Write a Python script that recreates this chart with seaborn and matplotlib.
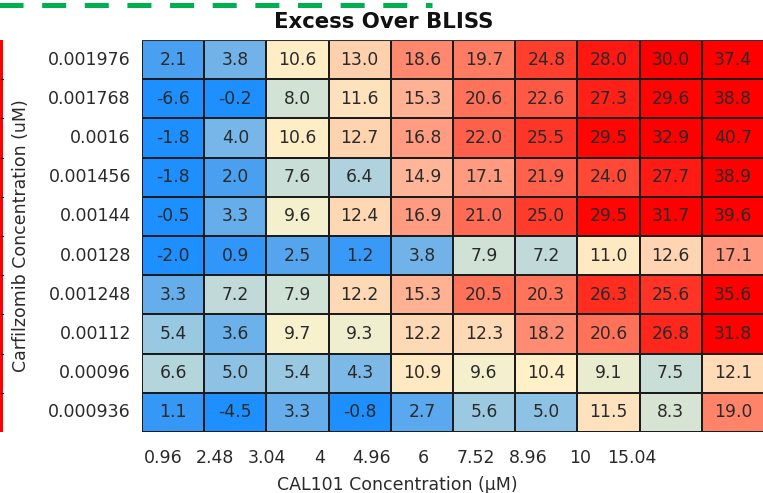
import numpy as np
import pandas as pd
import matplotlib
matplotlib.use("Agg")
import matplotlib.pyplot as plt
from matplotlib.colors import LinearSegmentedColormap
from matplotlib.lines import Line2D
from matplotlib.patches import Rectangle
from matplotlib.transforms import blended_transform_factory
import seaborn as sns

# Drug concentrations
carfilzomib = ["0.001976", "0.001768", "0.0016", "0.001456", "0.00144",
               "0.00128", "0.001248", "0.00112", "0.00096", "0.000936"]
cal101 = ["0.96", "2.48", "3.04", "4", "4.96", "6", "7.52", "8.96", "10", "15.04"]

# Excess over BLISS, one list per Carfilzomib concentration (top to bottom)
row_001976 = [2.1, 3.8, 10.6, 13.0, 18.6, 19.7, 24.8, 28.0, 30.0, 37.4]
row_001768 = [-6.6, -0.2, 8.0, 11.6, 15.3, 20.6, 22.6, 27.3, 29.6, 38.8]
row_0016 = [-1.8, 4.0, 10.6, 12.7, 16.8, 22.0, 25.5, 29.5, 32.9, 40.7]
row_001456 = [-1.8, 2.0, 7.6, 6.4, 14.9, 17.1, 21.9, 24.0, 27.7, 38.9]
row_00144 = [-0.5, 3.3, 9.6, 12.4, 16.9, 21.0, 25.0, 29.5, 31.7, 39.6]
row_00128 = [-2.0, 0.9, 2.5, 1.2, 3.8, 7.9, 7.2, 11.0, 12.6, 17.1]
row_001248 = [3.3, 7.2, 7.9, 12.2, 15.3, 20.5, 20.3, 26.3, 25.6, 35.6]
row_00112 = [5.4, 3.6, 9.7, 9.3, 12.2, 12.3, 18.2, 20.6, 26.8, 31.8]
row_00096 = [6.6, 5.0, 5.4, 4.3, 10.9, 9.6, 10.4, 9.1, 7.5, 12.1]
row_000936 = [1.1, -4.5, 3.3, -0.8, 2.7, 5.6, 5.0, 11.5, 8.3, 19.0]

rows = [row_001976, row_001768, row_0016, row_001456, row_00144,
        row_00128, row_001248, row_00112, row_00096, row_000936]
df = pd.DataFrame(rows, index=carfilzomib, columns=cal101)

# Blue -> pale yellow -> red scale, saturating at 0 and 30
vmin, vmax = 0.0, 30.0
nodes = [(0, "#1e8fff"), (2, "#4aa0f0"), (4, "#76b6e8"), (6, "#a8cfe0"),
         (8, "#d2e2d4"), (10, "#fff4cc"), (12, "#fedcb8"), (14, "#ffc2a2"),
         (17, "#ff9a80"), (20, "#ff785f"), (25, "#ff3c2c"), (30, "#ff0000")]
cmap = LinearSegmentedColormap.from_list(
    "excess", [((v - vmin) / (vmax - vmin), c) for v, c in nodes])

plt.rcParams["font.family"] = ["DejaVu Sans"]
plt.rcParams["lines.scale_dashes"] = False

W, H = 763, 493
txt = "#2a2a2a"
fig = plt.figure(figsize=(W / 100, H / 100), dpi=100)

ax = fig.add_axes([142 / W, 61 / H, 622 / W, 392 / H])
sns.heatmap(df, ax=ax, cmap=cmap, vmin=vmin, vmax=vmax, cbar=False,
            annot=True, fmt=".1f", linewidths=1.1, linecolor="#1c1c1c",
            annot_kws={"fontsize": 12.3, "color": txt},
            xticklabels=False, yticklabels=True)
ax.tick_params(axis="y", length=0, pad=8, labelsize=12.5, labelcolor=txt,
               labelrotation=0)
ax.tick_params(axis="x", length=0)
ax.set_xlabel("")
ax.set_ylabel("")
ax.axhline(0, color="#333333", lw=1.5)

# Concentration labels for the CAL101 axis
lab = fig.add_axes([137 / W, 61 / H, 521 / W, 392 / H])
lab.patch.set_visible(False)
for s in lab.spines.values():
    s.set_visible(False)
lab.set_xlim(0, len(cal101))
lab.set_xticks(np.arange(len(cal101)) + 0.5)
lab.set_xticklabels(cal101)
lab.set_yticks([])
lab.tick_params(axis="x", length=0, pad=12, labelsize=12.5, labelcolor=txt)
lab.set_xlabel("CAL101 Concentration (\u03bcM)", fontsize=12.5, color=txt,
               labelpad=7)

fig.text(21 / W, 1 - 236 / H, "Carfilzomib Concentration (uM)", rotation=90,
         ha="center", va="center", fontsize=12.5, color=txt)
fig.text(0.503, 1 - 22 / H, "Excess Over BLISS", ha="center", va="center",
         fontsize=15.3, fontweight="bold", color="#111111")

# Dashed green rule along the top
fig.add_artist(Line2D([-15.6 / W, 432 / W], [1 - 4.5 / H, 1 - 4.5 / H],
                      transform=fig.transFigure, color="#00b050", lw=3.6,
                      dashes=(17.3, 13.4), solid_capstyle="butt",
                      dash_capstyle="butt"))

# Red strip at the left edge with cell dividers
fig.add_artist(Rectangle((0, 61 / H), 2.6 / W, 392 / H, transform=fig.transFigure,
                         color="#ff0000", lw=0))
bt = blended_transform_factory(fig.transFigure, ax.transData)
for k in range(1, len(carfilzomib)):
    fig.add_artist(Line2D([1.5 / W, 3.2 / W], [k, k], transform=bt,
                          color="#222222", lw=0.8))

fig.savefig("out.png", dpi=100)
